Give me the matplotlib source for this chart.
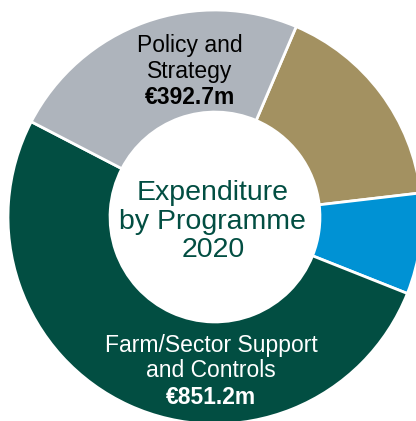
import matplotlib.pyplot as plt

# programme spend 2020, clockwise from the top-right segment
programmes = ['Food Safety', 'Seafood', 'Farm/Sector Support and Controls', 'Policy and Strategy']
spend = [276.0, 130.0, 851.2, 392.7]
colours = ['#A39161', '#0092D4', '#024E42', '#AEB4BC']

plt.rcParams['font.family'] = ['Liberation Sans', 'DejaVu Sans']

fig = plt.figure(figsize=(4.16, 4.21), dpi=100)
ax = fig.add_axes([0, 0, 1, 1])

ax.pie(spend, colors=colours, startangle=66.9, counterclock=False, radius=1.0,
       wedgeprops={'width': 0.493, 'edgecolor': 'white', 'linewidth': 2})

# pixel-matched view (centre at 215,217 px, radius 207 px)
ax.set_xlim(-215 / 207, (416 - 215) / 207)
ax.set_ylim(-(421 - 217) / 207, 217 / 207)
ax.set_aspect('auto')
ax.axis('off')

ax.text(-0.01, -0.022, 'Expenditure\nby Programme\n2020', ha='center', va='center',
        fontsize=20.5, color='#024E42', linespacing=1.12)

ax.text(-0.121, 0.765, 'Policy and\nStrategy', ha='center', va='center',
        fontsize=16.5, color='black', linespacing=1.13)
ax.text(-0.121, 0.575, '€392.7m', ha='center', va='center',
        fontsize=16.5, color='black', fontweight='bold')

ax.text(-0.019, -0.68, 'Farm/Sector Support\nand Controls', ha='center', va='center',
        fontsize=16.5, color='white', linespacing=1.13)
ax.text(-0.019, -0.87, '€851.2m', ha='center', va='center',
        fontsize=16.5, color='white', fontweight='bold')

fig.savefig('out.png', dpi=100)
